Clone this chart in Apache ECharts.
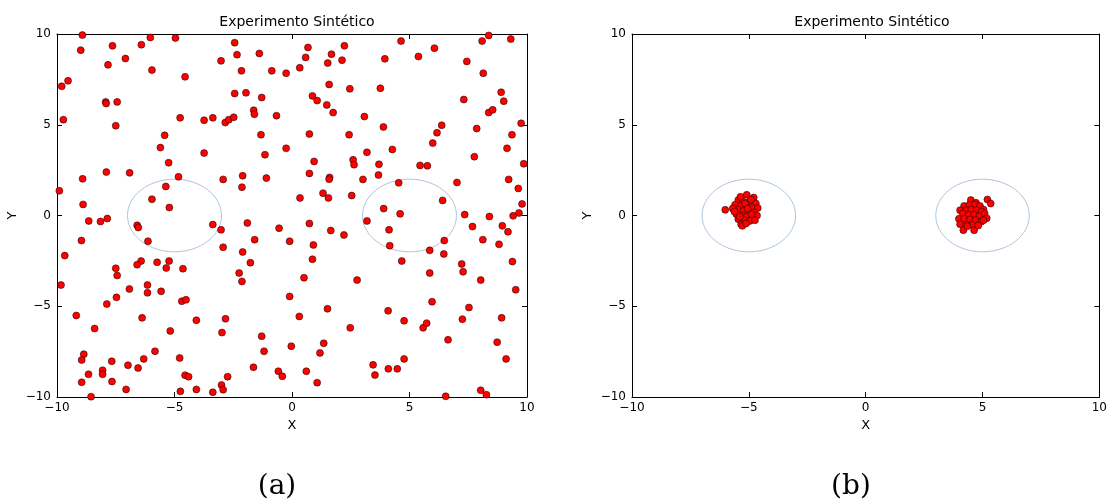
<!DOCTYPE html>
<html>
<head>
<meta charset="utf-8">
<script src="https://cdn.jsdelivr.net/npm/echarts@6/dist/echarts.min.js"></script>
<style>html,body{margin:0;padding:0;background:#fff;}#c{width:1110px;height:500px;}</style>
</head>
<body>
<div id="c"></div>
<script>
// ---- data ----
const chartTitle = 'Experimento Sintético';
const subLabels = ['(a)', '(b)'];
const axisTicks = [-10, -5, 0, 5, 10];
const circles = [[-5, 0, 2], [5, 0, 2]];

const pointsA = [
[-8.92,9.94],[-8.99,9.11],[-7.64,9.35],[-6.41,9.41],[-6.03,9.81],[-4.96,9.78],[-7.09,8.65],[-7.83,8.30],[-5.96,8.01],[-4.55,7.64],[-9.80,7.12],[-9.53,7.42],[-7.93,6.26],[-7.91,6.17],[-7.44,6.26],[-7.50,4.95],[-9.73,5.28],[-4.76,5.38],[-5.42,4.42],[-5.60,3.74],[-5.25,2.91],[-4.83,2.13],[-5.37,1.60],[-5.96,0.90],[-5.22,0.44],[-7.90,2.39],[-6.91,2.35],[-8.91,2.02],[-9.90,1.36],[-8.89,0.61],
[-2.44,9.52],[-2.34,8.86],[-1.39,8.93],[-3.02,8.52],[-2.15,7.97],[-0.86,7.97],[-0.25,7.84],[-2.44,6.72],[-1.96,6.76],[-1.29,6.50],[-1.63,5.80],[-1.60,5.58],[-0.66,5.50],[-3.74,5.25],[-3.37,5.38],[-2.84,5.12],[-2.69,5.28],[-2.48,5.41],[-1.32,4.45],[-3.74,3.44],[-1.15,3.35],[-0.25,3.70],[-2.10,2.19],[-2.93,1.99],[-2.13,1.56],[-1.09,2.06],
[0.68,9.26],[0.58,8.71],[0.33,8.14],[1.68,8.89],[2.23,9.35],[1.52,8.40],[2.13,8.56],[3.95,8.63],[4.64,9.61],[5.38,8.76],[6.06,9.22],[8.09,9.61],[8.37,9.92],[9.31,9.72],[7.44,8.49],[8.14,7.84],[1.58,7.22],[2.46,6.98],[3.76,7.01],[0.87,6.59],[1.07,6.33],[1.48,6.09],[1.75,5.67],[3.08,5.45],[7.31,6.39],[8.90,6.79],[9.01,6.30],[8.37,5.67],[8.54,5.82],[9.75,5.08],[0.74,4.49],[2.43,4.45],[3.89,4.88],[6.37,4.97],[6.17,4.56],[5.99,3.99],[7.86,4.79],[9.36,4.45],[9.15,3.70],[3.19,3.48],[4.27,3.64],[7.76,3.24],[0.94,2.98],[2.60,3.07],[2.64,2.80],[3.70,2.82],[5.45,2.76],[5.76,2.74],[9.86,2.85],[0.74,2.32],[1.60,2.10],[1.58,2.00],[3.02,1.99],[3.68,2.23],[4.54,1.80],[7.02,1.82],[9.22,1.99],[9.63,1.49],[0.34,0.97],[1.32,1.23],[1.55,0.97],[2.54,1.10],[3.90,0.38],[4.60,0.09],[6.41,0.83],[7.35,0.05],[8.40,-0.06],[9.41,-0.02],[9.79,0.64],[9.66,0.14],
[-8.65,-0.30],[-8.15,-0.33],[-7.86,-0.17],[-6.59,-0.54],[-6.54,-0.66],[-6.13,-1.42],[-3.37,-0.50],[-3.02,-0.79],[-1.90,-0.41],[-0.55,-0.70],[-0.10,-1.42],[-8.96,-1.38],[-9.67,-2.21],[-2.93,-1.75],[-1.59,-1.33],[-2.10,-2.01],[-1.77,-2.60],[-2.25,-3.17],[-2.13,-3.63],[-6.42,-2.51],[-6.59,-2.71],[-5.74,-2.58],[-5.23,-2.51],[-5.35,-2.89],[-4.64,-2.93],[-7.50,-2.91],[-7.44,-3.30],[-9.83,-3.83],[-6.15,-3.83],[-6.92,-4.05],[-6.15,-4.26],[-5.57,-4.18],[-7.47,-4.51],[-7.88,-4.88],[-4.69,-4.72],[-4.51,-4.64],[-9.18,-5.51],[-6.38,-5.64],[-4.07,-5.77],[-2.83,-5.69],[-0.10,-4.46],[-8.40,-6.23],[-5.18,-6.36],[-2.98,-6.45],[-1.29,-6.65],[-1.19,-7.48],[-0.03,-7.20],[-8.86,-7.64],[-8.95,-7.96],[-5.83,-7.48],[-4.78,-7.85],[-6.31,-7.90],[-7.67,-8.03],[-8.06,-8.53],[-8.06,-8.75],[-6.98,-8.25],[-6.55,-8.40],[-8.66,-8.75],[-8.95,-9.19],[-7.66,-9.15],[-7.06,-9.58],[-8.55,-9.98],[-4.55,-8.80],[-4.40,-8.88],[-4.75,-9.69],[-4.07,-9.58],[-3.37,-9.74],[-3.00,-9.34],[-2.93,-9.60],[-2.74,-8.88],[-1.64,-8.36],[-0.58,-8.58],[-0.41,-8.86],
[0.74,-0.44],[1.65,-0.83],[2.21,-1.07],[3.19,-0.30],[4.13,-0.79],[4.16,-1.66],[0.91,-1.62],[0.87,-2.41],[4.67,-2.51],[5.86,-1.92],[6.46,-2.12],[6.48,-1.38],[7.68,-0.61],[8.12,-1.33],[8.81,-1.59],[8.95,-0.57],[9.19,-0.90],[9.38,-2.54],[7.22,-2.67],[7.28,-3.10],[5.86,-3.17],[8.03,-3.56],[9.52,-4.09],[0.51,-3.43],[2.77,-3.56],[1.51,-5.14],[0.31,-5.56],[4.09,-5.25],[4.77,-5.80],[5.96,-4.75],[7.53,-5.07],[7.25,-5.71],[8.92,-5.64],[2.48,-6.19],[5.58,-6.19],[5.73,-5.93],[6.64,-6.85],[1.35,-7.04],[1.19,-7.57],[8.73,-6.98],[9.11,-7.90],[3.45,-8.23],[3.53,-8.79],[4.10,-8.45],[4.48,-8.45],[4.77,-7.90],[0.61,-8.58],[1.07,-9.21],[6.54,-9.96],[8.03,-9.63],[8.27,-9.87]
];

const clusterLeftB = [
[-5.09,1.14],[-4.79,0.99],[-5.45,0.85],[-5.25,0.77],[-4.99,0.74],[-4.70,0.66],[-5.59,0.59],[-5.33,0.53],[-5.11,0.48],[-4.88,0.44],[-4.62,0.41],[-5.48,0.33],[-5.22,0.26],[-4.99,0.22],[-4.77,0.17],[-5.53,0.07],[-5.30,0.00],[-5.08,-0.04],[-4.85,-0.07],[-4.65,0.00],[-5.45,-0.20],[-5.19,-0.26],[-4.96,-0.30],[-4.74,-0.26],[-5.33,-0.48],[-5.28,-0.57],[-5.69,0.39],[-6.01,0.31],[-5.36,1.03],[-4.91,0.88],[-5.16,0.66],[-5.62,0.22],[-5.05,0.37],[-5.39,-0.07],[-4.88,0.07],[-5.12,-0.44]
];
const clusterRightB = [
[5.21,0.88],[5.35,0.66],[4.50,0.85],[4.72,0.70],[4.21,0.52],[4.44,0.59],[4.68,0.61],[4.89,0.52],[5.04,0.33],[4.04,0.29],[4.30,0.29],[4.52,0.33],[4.75,0.29],[4.96,0.22],[4.16,0.11],[4.41,0.04],[4.64,0.04],[4.87,-0.04],[5.09,0.11],[5.18,-0.15],[3.99,-0.18],[4.21,-0.18],[4.47,-0.22],[4.70,-0.26],[4.95,-0.33],[4.04,-0.48],[4.30,-0.52],[4.55,-0.52],[4.18,-0.81],[4.64,-0.81],[4.35,-0.59],[5.04,-0.26],[4.82,-0.55]
];

// ---- chart ----
const FONT = 'DejaVu Sans';
const minus = v => String(v).replace('-', '\u2212');
const gridsPx = [{left: 57, top: 34, width: 470, height: 363}, {left: 632, top: 34, width: 470, height: 363}];

const xAxes = [], yAxes = [];
gridsPx.forEach((g, i) => {
  const common = {
    type: 'value', min: axisTicks[0], max: axisTicks[axisTicks.length - 1], interval: 5,
    gridIndex: i, splitLine: {show: false},
    axisLine: {show: true, onZero: false, lineStyle: {color: '#000', width: 1}},
    axisTick: {show: true, inside: true, length: 5, lineStyle: {color: '#000'}},
  };
  xAxes.push(Object.assign({}, common, {
    position: 'bottom', name: 'X', nameLocation: 'middle', nameGap: 22,
    nameTextStyle: {fontFamily: FONT, fontSize: 13, color: '#000'},
    axisLabel: {margin: 5, fontFamily: FONT, fontSize: 12, color: '#000', formatter: minus}
  }));
  xAxes.push(Object.assign({}, common, {position: 'top', axisLabel: {show: false}}));
  yAxes.push(Object.assign({}, common, {
    position: 'left', name: 'Y', nameLocation: 'middle', nameGap: 38,
    nameTextStyle: {fontFamily: FONT, fontSize: 13, color: '#000'},
    axisLabel: {margin: 6, fontFamily: FONT, fontSize: 12, color: '#000', formatter: minus}
  }));
  yAxes.push(Object.assign({}, common, {position: 'right', axisLabel: {show: false}}));
});

function circleSeries(gi) {
  return {
    type: 'custom', xAxisIndex: gi * 2, yAxisIndex: gi * 2, z: 1, silent: true,
    data: circles,
    renderItem: function (params, api) {
      const c = api.coord([api.value(0), api.value(1)]);
      const s = api.size([api.value(2), api.value(2)]);
      return {type: 'ellipse', shape: {cx: c[0], cy: c[1], rx: s[0], ry: s[1]},
        style: {fill: 'none', stroke: '#b0c4de', lineWidth: 1}};
    }
  };
}
function scatterSeries(gi, data) {
  return {
    type: 'scatter', xAxisIndex: gi * 2, yAxisIndex: gi * 2, z: 2,
    symbol: 'circle', symbolSize: 7, data: data, silent: true,
    itemStyle: {color: '#ff0000', borderColor: '#000', borderWidth: 0.5, opacity: 1}
  };
}

const option = {
  backgroundColor: '#fff',
  animation: false,
  title: [
    {text: chartTitle, left: 292, top: 10, textAlign: 'center', textStyle: {fontFamily: FONT, fontSize: 14, fontWeight: 'normal', color: '#000'}},
    {text: chartTitle, left: 867, top: 10, textAlign: 'center', textStyle: {fontFamily: FONT, fontSize: 14, fontWeight: 'normal', color: '#000'}},
    {text: subLabels[0], left: 272, top: 468, textAlign: 'center', textStyle: {fontFamily: 'DejaVu Serif', fontSize: 28, fontWeight: 'normal', color: '#000'}},
    {text: subLabels[1], left: 846, top: 468, textAlign: 'center', textStyle: {fontFamily: 'DejaVu Serif', fontSize: 28, fontWeight: 'normal', color: '#000'}}
  ],
  grid: gridsPx.map(g => Object.assign({containLabel: false}, g)),
  xAxis: xAxes,
  yAxis: yAxes,
  series: [
    circleSeries(0), scatterSeries(0, pointsA),
    circleSeries(1), scatterSeries(1, clusterLeftB), scatterSeries(1, clusterRightB)
  ]
};
const chart = echarts.init(document.getElementById('c'), null, {renderer: 'canvas'});
chart.setOption(option);
</script>
</body>
</html>
